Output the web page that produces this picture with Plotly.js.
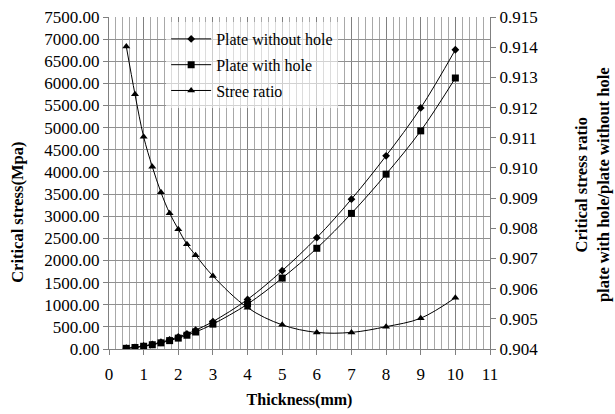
<!DOCTYPE html>
<html><head><meta charset="utf-8">
<script src="https://cdn.plot.ly/plotly-3.0.1.min.js"></script>
<style>body{margin:0;background:#fff}#c{width:615px;height:414px}</style>
</head><body><div id="c"></div>
<script>
const thickness = [0.5, 0.75, 1, 1.25, 1.5, 1.75, 2, 2.25, 2.5, 3, 4, 5, 6, 7, 8, 9, 10];
const withoutHole = [17, 38, 68, 106, 153, 208, 271, 343, 424, 620, 1120, 1770, 2515, 3385, 4365, 5445, 6760];
const withHole = [15, 34, 62, 96, 139, 189, 246, 311, 384, 562, 1014, 1602, 2275, 3063, 3950, 4928, 6122];
const stressRatio = [0.91402, 0.91244, 0.91103, 0.91004, 0.90919, 0.9085, 0.90797, 0.90747, 0.90711, 0.90642, 0.90537, 0.9048, 0.90455, 0.90455, 0.90474, 0.90502, 0.9057];
const serif = 'Liberation Serif';

const traces = [
  {x: thickness, y: withoutHole, name: 'Plate without hole', type: 'scatter', mode: 'lines+markers',
   line: {color: '#000', width: 1, shape: 'spline'}, marker: {symbol: 'diamond', size: 6, color: '#000'}, legendgroup: 'a'},
  {x: thickness, y: withHole, name: 'Plate with hole', type: 'scatter', mode: 'lines+markers',
   line: {color: '#000', width: 1, shape: 'spline'}, marker: {symbol: 'square', size: 7, color: '#000'}, legendgroup: 'b'},
  {x: thickness, y: stressRatio, name: 'Stree ratio', type: 'scatter', mode: 'lines+markers', yaxis: 'y2',
   line: {color: '#000', width: 1, shape: 'spline'}, marker: {symbol: 'triangle-up', size: 7, color: '#000'}, legendgroup: 'c'}
];

const layout = {
  width: 615, height: 414,
  margin: {l: 109, r: 125, t: 17, b: 65},
  paper_bgcolor: '#fff', plot_bgcolor: '#fff',
  font: {family: serif, size: 16, color: '#000'},
  showlegend: true,
  legend: {x: 0.15, y: 0.985, xanchor: 'left', yanchor: 'top', bgcolor: 'rgba(255,255,255,0.6)', borderwidth: 0,
           font: {family: serif, size: 16, color: '#000'}, traceorder: 'grouped', tracegroupgap: 2, itemwidth: 40},
  xaxis: {range: [0, 11], dtick: 1, tick0: 0, showgrid: true, gridcolor: '#808080', gridwidth: 1,
          minor: {dtick: 0.2, showgrid: true, gridcolor: '#a8a8a8', gridwidth: 1},
          showline: true, linecolor: '#808080', ticks: 'outside', ticklen: 5, tickcolor: '#808080',
          ticklabelstandoff: 5,
          zeroline: false, tickfont: {family: serif, size: 17, color: '#000'},
          title: {text: '<b>Thickness(mm)</b>', font: {family: serif, size: 16}, standoff: 10}},
  yaxis: {range: [0, 7500], dtick: 500, tickformat: '.2f', showgrid: true, gridcolor: '#909090',
          showline: true, linecolor: '#808080', ticks: 'outside', ticklen: 5, tickcolor: '#808080',
          zeroline: false, tickfont: {family: serif, size: 17, color: '#000'}},
  yaxis2: {range: [0.904, 0.915], dtick: 0.001, tickformat: '.3f', overlaying: 'y', side: 'right',
           showgrid: false, showline: true, linecolor: '#808080', ticks: 'outside', ticklen: 5, tickcolor: '#808080',
           zeroline: false, tickfont: {family: serif, size: 17, color: '#000'}},
  annotations: [
    {text: '<b>Critical stress(Mpa)</b>', xref: 'paper', yref: 'paper', x: -0.239, y: 0.413,
     xanchor: 'center', yanchor: 'middle', textangle: -90, showarrow: false, font: {family: serif, size: 16.5}},
    {text: '<b>Critical stress ratio<br>plate with hole/plate without hole</b>', xref: 'paper', yref: 'paper', x: 1.268, y: 0.494,
     xanchor: 'center', yanchor: 'middle', textangle: -90, showarrow: false, font: {family: serif, size: 16.5}}
  ]
};
Plotly.newPlot('c', traces, layout, {displayModeBar: false, staticPlot: true});
</script></body></html>
